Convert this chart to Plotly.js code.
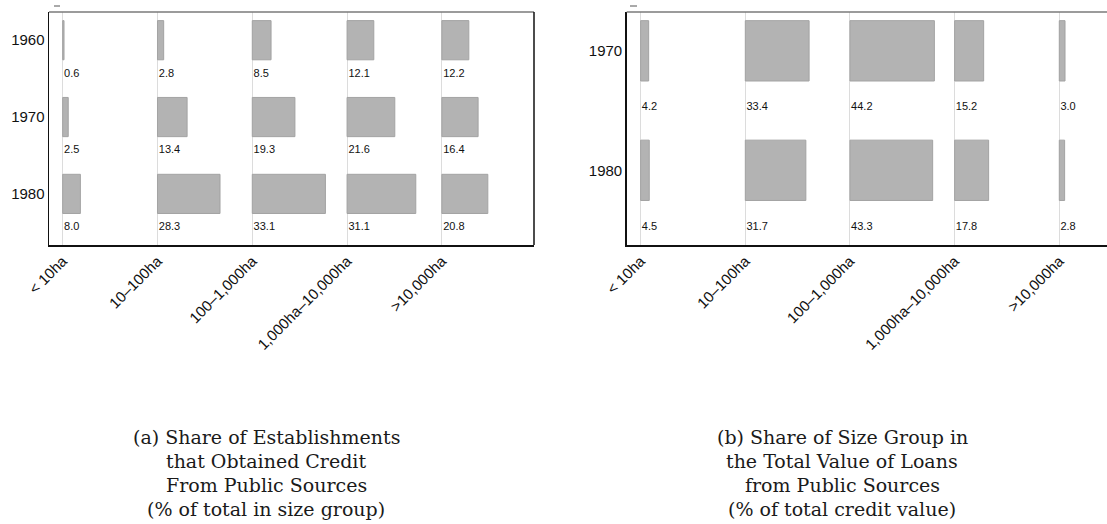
<!DOCTYPE html>
<html>
<head>
<meta charset="utf-8">
<script src="https://cdn.plot.ly/plotly-3.0.1.min.js"></script>
<style>
html,body{margin:0;padding:0;overflow:hidden;background:#fff;}
#chart{width:1170px;height:524px;}
</style>
</head>
<body>
<div id="chart"></div>
<script>
// ---- data ----
const sizeGroups = ['< 10ha', '10–100ha', '100–1,000ha', '1,000ha–10,000ha', '>10,000ha'];
const yearsA = ['1960', '1970', '1980'];
const estab1960 = [0.6, 2.8, 8.5, 12.1, 12.2];
const estab1970 = [2.5, 13.4, 19.3, 21.6, 16.4];
const estab1980 = [8.0, 28.3, 33.1, 31.1, 20.8];
const yearsB = ['1970', '1980'];
const loans1970 = [4.2, 33.4, 44.2, 15.2, 3.0];
const loans1980 = [4.5, 31.7, 43.3, 17.8, 2.8];
const captionA = ['(a) Share of Establishments', 'that Obtained Credit', 'From Public Sources', '(% of total in size group)'];
const captionB = ['(b) Share of Size Group in', 'the Total Value of Loans', 'from Public Sources', '(% of total credit value)'];

// ---- layout constants ----
const W = 1170, H = 524;
const stepA = 42.9, stepB = 54.8;     // column spacing in value units
const barFill = '#b3b3b3', barLine = '#a3a3a3';
const sans = 'Liberation Sans, Arial, sans-serif';
const serif = 'DejaVu Serif, serif';

function panelTraces(rows, years, step, xa, ya, barW, labOff) {
  const traces = [];
  rows.forEach((vals, r) => {
    traces.push({
      type: 'bar', orientation: 'h', xaxis: xa, yaxis: ya,
      y: vals.map(() => r), x: vals, base: sizeGroups.map((g, c) => c * step),
      width: barW, marker: {color: barFill, line: {color: barLine, width: 1}},
      hoverinfo: 'skip', showlegend: false
    });
    traces.push({
      type: 'scatter', mode: 'text', xaxis: xa, yaxis: ya,
      x: sizeGroups.map((g, c) => c * step + 0.6),
      y: vals.map(() => r + labOff),
      text: vals.map(v => v.toFixed(1)), textposition: 'middle right',
      textfont: {family: sans, size: 11, color: '#111'},
      hoverinfo: 'skip', showlegend: false
    });
  });
  return traces;
}

const traces = [
  ...panelTraces([estab1960, estab1970, estab1980], yearsA, stepA, 'x', 'y', 0.51, 0.437),
  ...panelTraces([loans1970, loans1980], yearsB, stepB, 'x2', 'y2', 0.505, 0.475)
];

const yTop = 1 - 12 / H, yBot = 1 - 245 / H;
const xDomA = [49 / W, 534 / W];
const xDomB = [626.7 / W, 1163 / W];
function xax(dom, range, step, anchor) {
  return {
    domain: dom, range: range, anchor: anchor,
    tickvals: sizeGroups.map((g, c) => c * step), ticktext: sizeGroups,
    tickangle: -45, ticks: '', showgrid: true, gridcolor: '#dcdcdc', gridwidth: 1,
    zeroline: false, showline: true, linecolor: '#111', linewidth: 1.5,
    tickfont: {family: sans, size: 15, color: '#111'}, fixedrange: true
  };
}
function yax(range, years, anchor) {
  return {
    domain: [yBot, yTop], range: range, anchor: anchor,
    tickvals: years.map((y, i) => i), ticktext: years, ticks: '',
    showgrid: false, zeroline: false, showline: true, linecolor: '#111', linewidth: 1.5,
    tickfont: {family: sans, size: 15, color: '#111'}, fixedrange: true
  };
}

const shapes = [];
['x', 'x2'].forEach((xr, i) => {
  const yr = i === 0 ? 'y' : 'y2';
  shapes.push({type: 'line', xref: xr + ' domain', yref: yr + ' domain', x0: 0, x1: 1, y0: 1, y1: 1,
    line: {color: '#7a7a7a', width: 1.5}});
  shapes.push({type: 'line', xref: xr + ' domain', yref: yr + ' domain', x0: 1, x1: 1, y0: 0, y1: 1,
    line: {color: '#111', width: 1.5}});
});
shapes.push({type: 'line', xref: 'paper', yref: 'paper', x0: 54 / W, x1: 60 / W, y0: 1 - 6 / H, y1: 1 - 6 / H,
  line: {color: '#555', width: 1}});
shapes.push({type: 'line', xref: 'paper', yref: 'paper', x0: 630 / W, x1: 637 / W, y0: 1 - 6 / H, y1: 1 - 6 / H,
  line: {color: '#555', width: 1}});

const capY = [437, 461, 485, 509];
const annotations = [];
captionA.forEach((t, i) => annotations.push({
  text: t, xref: 'paper', yref: 'paper', x: 266 / W, y: 1 - capY[i] / H,
  xanchor: 'center', yanchor: 'middle', showarrow: false,
  font: {family: serif, size: 19, color: '#1a1a1a'}
}));
captionB.forEach((t, i) => annotations.push({
  text: t, xref: 'paper', yref: 'paper', x: 842 / W, y: 1 - capY[i] / H,
  xanchor: 'center', yanchor: 'middle', showarrow: false,
  font: {family: serif, size: 19, color: '#1a1a1a'}
}));

const layout = {
  width: W, height: H, margin: {l: 0, r: 0, t: 0, b: 0},
  paper_bgcolor: '#fff', plot_bgcolor: '#fff', showlegend: false, barmode: 'overlay',
  xaxis: xax(xDomA, [-6.2, 213.3], stepA, 'y'),
  yaxis: yax([2.665, -0.367], yearsA, 'x'),
  xaxis2: xax(xDomB, [-7.3, 273.5], stepB, 'y2'),
  yaxis2: yax([1.625, -0.325], yearsB, 'x2'),
  shapes: shapes, annotations: annotations
};

Plotly.newPlot('chart', traces, layout, {displayModeBar: false, staticPlot: true});
</script>
</body>
</html>
